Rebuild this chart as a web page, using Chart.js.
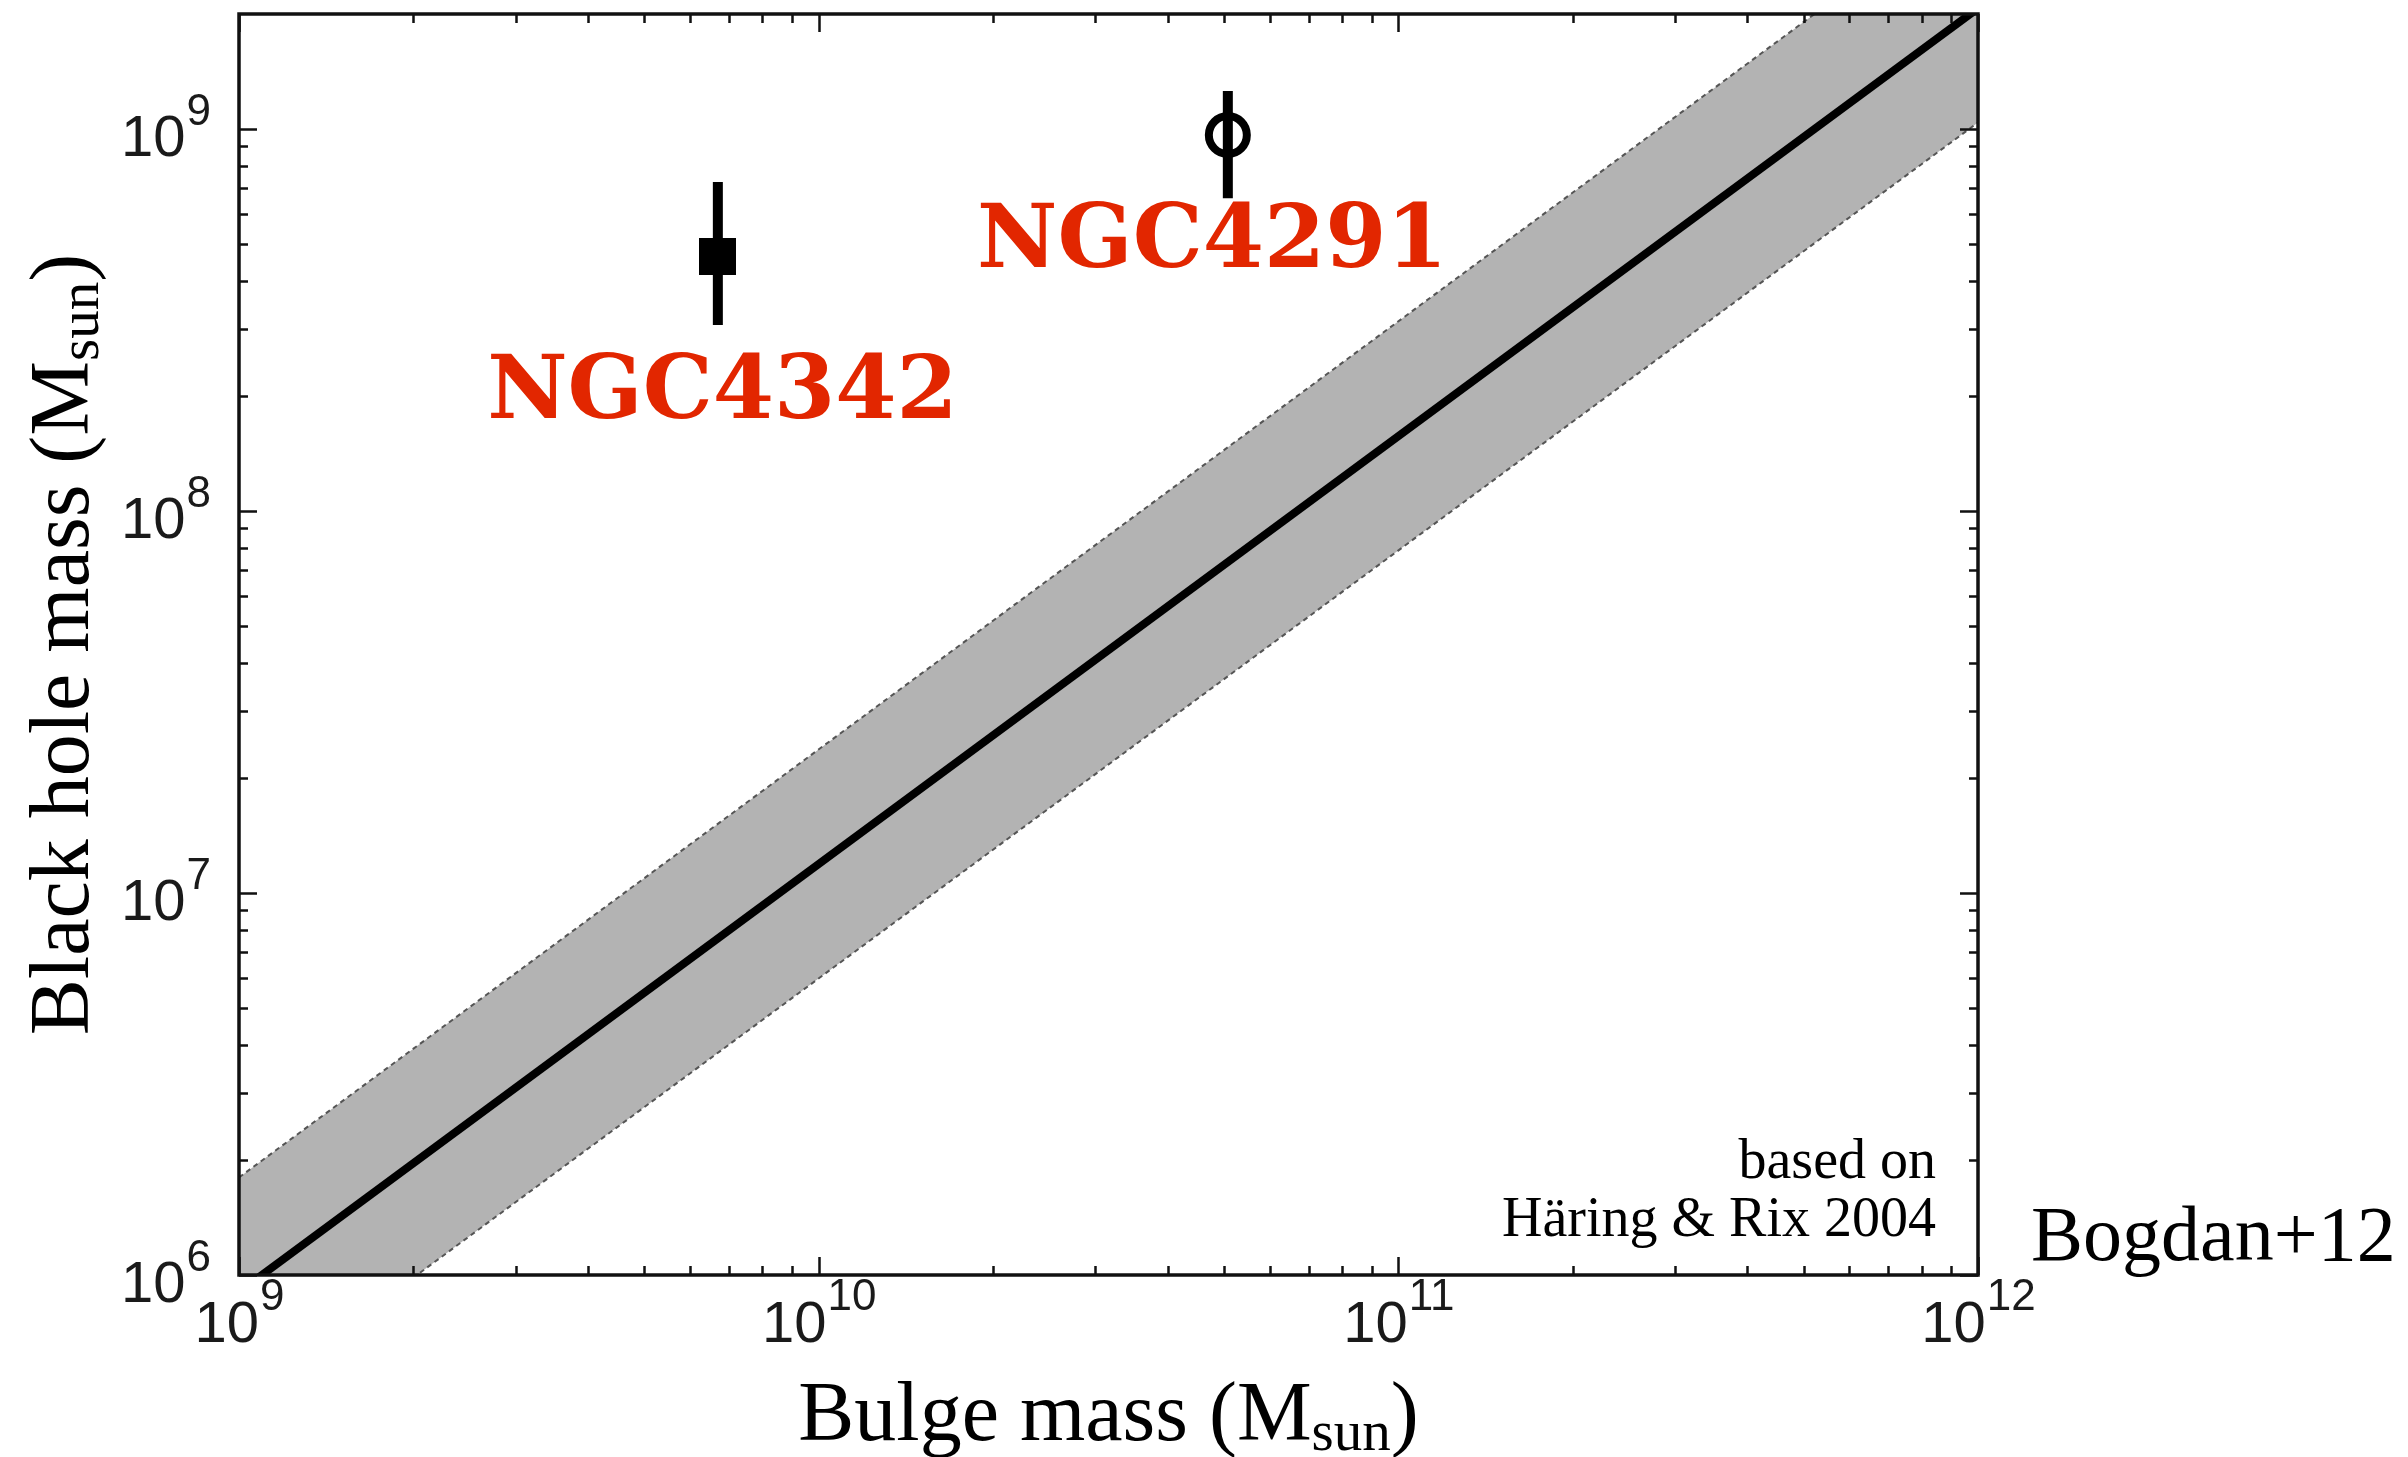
<!DOCTYPE html>
<html>
<head>
<meta charset="utf-8">
<script src="https://cdn.jsdelivr.net/npm/chart.js@4/dist/chart.umd.min.js"></script>
<style>
  html, body { margin: 0; padding: 0; background: #ffffff; }
  #wrap { width: 2408px; height: 1457px; }
</style>
</head>
<body>
<div id="wrap"><canvas id="c" width="2408" height="1457"></canvas></div>
<script>
// ---------------- data ----------------
const galaxyNames = ['NGC4342', 'NGC4291'];
const bulgeMass   = [6.70e9, 5.08e10];      // M_sun
const bhMass      = [4.63e8, 9.64e8];       // M_sun
const bhMassLow   = [3.07e8, 6.59e8];
const bhMassHigh  = [7.26e8, 1.258e9];
const labelAnchorX = [2.68e9, 1.876e10];
const labelAnchorY = [1.75e8, 4.35e8];

// Häring & Rix 2004 relation and its scatter band
const relationBulge = [1e9, 1e12];
const relationBH    = [9.03e5, 2.07e9];
const bandUpperBH   = [1.80e6, 4.14e9];
const bandLowerBH   = [4.53e5, 1.04e9];

// axes
const xRange = [1e9, 1e12];
const yRange = [1e6, 2.0e9];
const xMajorTicks = [1e9, 1e10, 1e11, 1e12];
const xTickExponents = ['9', '10', '11', '12'];
const yMajorTicks = [1e6, 1e7, 1e8, 1e9];
const yTickExponents = ['6', '7', '8', '9'];
const minorMultipliers = [2, 3, 4, 5, 6, 7, 8, 9];

const xTitle = ['Bulge mass (M', 'sun', ')'];
const yTitle = ['Black hole mass (M', 'sun', ')'];
const noteLines = ['based on', 'Häring & Rix 2004'];
const creditText = 'Bogdan+12';

// ---------------- styles ----------------
const RED = '#e22600';
const BAND_FILL = '#b3b3b3';
const TICK_FONT = '"Liberation Sans", Arial, sans-serif';
const SERIF = '"Liberation Serif", "Times New Roman", serif';

function pts(xs, ys) { return xs.map((x, i) => ({ x: x, y: ys[i] })); }

// square marker canvas
const sq = document.createElement('canvas');
sq.width = 37; sq.height = 37;
(function () { const g = sq.getContext('2d'); g.fillStyle = '#000'; g.fillRect(0, 0, 37, 37); })();

const datasets = [
  {
    label: 'upper', type: 'line', data: pts(relationBulge, bandUpperBH),
    borderColor: '#555555', borderWidth: 2, borderDash: [5, 4],
    pointRadius: 0, fill: 1, backgroundColor: BAND_FILL, order: 10, clip: 0
  },
  {
    label: 'lower', type: 'line', data: pts(relationBulge, bandLowerBH),
    borderColor: '#555555', borderWidth: 2, borderDash: [5, 4],
    pointRadius: 0, fill: false, order: 9, clip: 0
  },
  {
    label: 'relation', type: 'line', data: pts(relationBulge, relationBH),
    borderColor: '#000000', borderWidth: 8, pointRadius: 0, fill: false, order: 5, clip: 0
  }
];

galaxyNames.forEach((name, i) => {
  datasets.push({
    label: name + ' err', type: 'line',
    data: [{ x: bulgeMass[i], y: bhMassLow[i] }, { x: bulgeMass[i], y: bhMassHigh[i] }],
    borderColor: '#000000', borderWidth: 10, borderCapStyle: 'butt',
    pointRadius: 0, fill: false, order: 2
  });
});

datasets.push({
  label: galaxyNames[0], type: 'scatter',
  data: [{ x: bulgeMass[0], y: bhMass[0] }],
  pointStyle: sq, pointRadius: 18, order: 1
});
datasets.push({
  label: galaxyNames[1], type: 'scatter',
  data: [{ x: bulgeMass[1], y: bhMass[1] }],
  pointStyle: 'circle', pointRadius: 19, borderWidth: 8,
  borderColor: '#000000', backgroundColor: 'rgba(0,0,0,0)', order: 1
});

// ---------------- plugin: frame, ticks, labels, texts ----------------
const decorations = {
  id: 'decorations',
  afterDatasetsDraw(chart) {
    const ctx = chart.ctx;
    const xs = chart.scales.x, ys = chart.scales.y;
    ctx.save();
    ctx.fillStyle = RED;
    ctx.font = 'bold 88px "DejaVu Serif", serif';
    ctx.textAlign = 'left';
    ctx.textBaseline = 'alphabetic';
    galaxyNames.forEach((n, i) => {
      ctx.fillText(n, xs.getPixelForValue(labelAnchorX[i]), ys.getPixelForValue(labelAnchorY[i]));
    });
    ctx.restore();
  },
  afterDraw(chart) {
    const ctx = chart.ctx;
    const a = chart.chartArea;
    const xs = chart.scales.x, ys = chart.scales.y;
    ctx.save();

    // ticks (inward, all four sides)
    ctx.strokeStyle = '#111111';
    ctx.lineWidth = 2.5;
    const majorLen = 18, minorLen = 9;
    function xTick(v, len) {
      const p = Math.round(xs.getPixelForValue(v)) + 0.5;
      ctx.beginPath();
      ctx.moveTo(p, a.bottom); ctx.lineTo(p, a.bottom - len);
      ctx.moveTo(p, a.top); ctx.lineTo(p, a.top + len);
      ctx.stroke();
    }
    function yTick(v, len) {
      const p = Math.round(ys.getPixelForValue(v)) + 0.5;
      ctx.beginPath();
      ctx.moveTo(a.left, p); ctx.lineTo(a.left + len, p);
      ctx.moveTo(a.right, p); ctx.lineTo(a.right - len, p);
      ctx.stroke();
    }
    xMajorTicks.forEach(v => {
      xTick(v, majorLen);
      minorMultipliers.forEach(m => { const mv = v * m; if (mv < xRange[1]) xTick(mv, minorLen); });
    });
    yMajorTicks.forEach(v => {
      yTick(v, majorLen);
      minorMultipliers.forEach(m => { const mv = v * m; if (mv < yRange[1] * 0.98) yTick(mv, minorLen); });
    });

    // frame
    ctx.lineWidth = 3.5;
    ctx.strokeStyle = '#111111';
    ctx.strokeRect(a.left, a.top, a.right - a.left, a.bottom - a.top);

    // tick labels
    ctx.fillStyle = '#1a1a1a';
    ctx.textBaseline = 'alphabetic';
    const baseFont = '58px ' + TICK_FONT, expFont = '44px ' + TICK_FONT;
    xMajorTicks.forEach((v, i) => {
      const p = xs.getPixelForValue(v);
      ctx.font = baseFont; const w1 = ctx.measureText('10').width;
      ctx.font = expFont; const w2 = ctx.measureText(xTickExponents[i]).width;
      const left = p - (w1 + w2) / 2;
      ctx.textAlign = 'left';
      ctx.font = baseFont; ctx.fillText('10', left, a.bottom + 67);
      ctx.font = expFont; ctx.fillText(xTickExponents[i], left + w1 + 1, a.bottom + 35);
    });
    yMajorTicks.forEach((v, i) => {
      const p = ys.getPixelForValue(v);
      const right = a.left - 28;
      ctx.font = expFont; const w2 = ctx.measureText(yTickExponents[i]).width;
      ctx.textAlign = 'right';
      ctx.fillText(yTickExponents[i], right, p - 4);
      ctx.font = baseFont; ctx.fillText('10', right - w2 - 1, p + 27);
    });

    // axis titles with subscript
    function drawTitle(parts, cx, cy, size) {
      const big = size + 'px ' + SERIF, small = Math.round(size * 0.68) + 'px ' + SERIF;
      ctx.font = big; const w0 = ctx.measureText(parts[0]).width;
      ctx.font = small; const w1 = ctx.measureText(parts[1]).width;
      ctx.font = big; const w2 = ctx.measureText(parts[2]).width;
      let x = cx - (w0 + w1 + w2) / 2;
      ctx.textAlign = 'left';
      ctx.font = big; ctx.fillText(parts[0], x, cy); x += w0;
      ctx.font = small; ctx.fillText(parts[1], x, cy + size * 0.12); x += w1;
      ctx.font = big; ctx.fillText(parts[2], x, cy);
    }
    ctx.fillStyle = '#000000';
    drawTitle(xTitle, (a.left + a.right) / 2, 1440, 84);
    ctx.save();
    ctx.translate(88, (a.top + a.bottom) / 2);
    ctx.rotate(-Math.PI / 2);
    drawTitle(yTitle, 0, 0, 84);
    ctx.restore();

    // notes
    ctx.textAlign = 'right';
    ctx.font = '56px ' + SERIF;
    ctx.fillText(noteLines[0], a.right - 42, 1178);
    ctx.fillText(noteLines[1], a.right - 42, 1236);
    ctx.textAlign = 'left';
    ctx.font = '78px ' + SERIF;
    ctx.fillText(creditText, 2031, 1260);

    ctx.restore();
  }
};

new Chart(document.getElementById('c'), {
  type: 'line',
  data: { datasets: datasets },
  options: {
    responsive: false,
    animation: false,
    devicePixelRatio: 1,
    layout: { autoPadding: false, padding: { left: 239, right: 430, top: 14, bottom: 182 } },
    plugins: { legend: { display: false }, tooltip: { enabled: false }, title: { display: false } },
    scales: {
      x: {
        type: 'logarithmic', min: xRange[0], max: xRange[1],
        ticks: { display: false }, grid: { display: false, drawTicks: false }, border: { display: false },
        afterFit(s) { s.height = 0; }
      },
      y: {
        type: 'logarithmic', min: yRange[0], max: yRange[1],
        ticks: { display: false }, grid: { display: false, drawTicks: false }, border: { display: false },
        afterFit(s) { s.width = 0; }
      }
    }
  },
  plugins: [decorations]
});
</script>
</body>
</html>
